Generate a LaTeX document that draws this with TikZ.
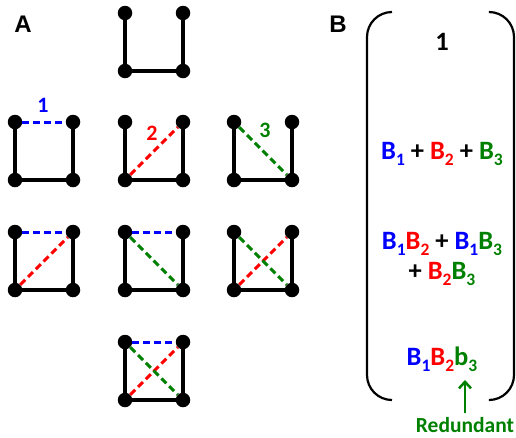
\documentclass[tikz,border=0pt]{standalone}
\usepackage{fontspec}
\setmainfont{Carlito}
\newfontfamily\arialf{Liberation Sans}
\usetikzlibrary{arrows.meta}
\definecolor{gblue}{RGB}{0,0,255}
\definecolor{gred}{RGB}{255,0,0}
\definecolor{ggreen}{RGB}{0,128,0}
\newcommand\subx[1]{\raisebox{-0.25em}{\fontsize{17.5}{17.5}\selectfont #1}}
\newcommand\Bx[3]{\textcolor{#1}{#2\subx{#3}}}
\newcommand\sqgraph[3]{%
  \node[dot] (#1tl) at (#2,#3) {};
  \node[dot] (#1tr) at (#2+58,#3) {};
  \node[dot] (#1bl) at (#2,#3+58) {};
  \node[dot] (#1br) at (#2+58,#3+58) {};
  \draw[edge] (#1tl) -- (#1bl) -- (#1br) -- (#1tr);
}
\begin{document}
\begin{tikzpicture}[x=1pt,y=-1pt,
  dot/.style={circle,fill=black,minimum size=14.5pt,inner sep=0pt},
  edge/.style={line width=3.2pt,black},
  dsh/.style={line width=3pt,dash pattern=on 7pt off 4pt},
  bl1/.style={dsh,gblue},
  rd2/.style={dsh,gred},
  gr3/.style={dsh,ggreen},
  panel/.style={font=\arialf\bfseries\fontsize{24}{24}\selectfont,anchor=base},
  num/.style={font=\bfseries\fontsize{22}{22}\selectfont},
  expr/.style={font=\bfseries\fontsize{26.5}{26.5}\selectfont,anchor=base},
  brack/.style={line width=2.2pt,rounded corners=25pt}]
\useasboundingbox (0,0) rectangle (516,437);
% panel labels
\node[panel] (labA) at (23,32) {A};
\node[panel] (labB) at (338,32) {B};
% graphs
\sqgraph{g0}{125}{13}
\sqgraph{g1}{15}{122}
\sqgraph{g2}{125}{122}
\sqgraph{g3}{234}{122}
\sqgraph{g4}{15}{232}
\sqgraph{g5}{125}{232}
\sqgraph{g6}{234}{232}
\sqgraph{g7}{125}{342}
% dashed edges
\draw[bl1] (g1tl) -- (g1tr);
\draw[rd2] (g2bl) -- (g2tr);
\draw[gr3] (g3tl) -- (g3br);
\draw[bl1] (g4tl) -- (g4tr);
\draw[rd2] (g4bl) -- (g4tr);
\draw[bl1] (g5tl) -- (g5tr);
\draw[gr3] (g5tl) -- (g5br);
\draw[rd2] (g6bl) -- (g6tr);
\draw[gr3] (g6tl) -- (g6br);
\draw[bl1] (g7tl) -- (g7tr);
\draw[rd2] (g7bl) -- (g7tr);
\draw[gr3] (g7tl) -- (g7br);
% edge numbers
\node[num,text=gblue] (n1) at (43,105) {1};
\node[num,text=gred] (n2) at (152,133) {2};
\node[num,text=ggreen] (n3) at (265,130) {3};
% brackets
\draw[brack] (392,12) -- (367,12) -- (367,400) -- (392,400);
\draw[brack] (490,12) -- (514,12) -- (514,400) -- (490,400);
% expressions
\node[expr] (e0) at (442,50) {1};
\node[expr] (e1) at (442,159) {\Bx{gblue}{B}{1} + \Bx{gred}{B}{2} + \Bx{ggreen}{B}{3}};
\node[expr] (e2) at (442,249) {\Bx{gblue}{B}{1}\Bx{gred}{B}{2} + \Bx{gblue}{B}{1}\Bx{ggreen}{B}{3}};
\node[expr] (e3) at (442,279) {+ \Bx{gred}{B}{2}\Bx{ggreen}{B}{3}};
\node[expr] (e4) at (442,365) {\Bx{gblue}{B}{1}\Bx{gred}{B}{2}\Bx{ggreen}{b}{3}};
\node[expr,text=ggreen,font=\bfseries\fontsize{21.5}{21.5}\selectfont] (red) at (465,432) {Redundant};
\coordinate (tip) at (465,380);
\draw[ggreen,line width=2.5pt,-{Straight Barb[length=6.5pt,width=12pt]}] (red.north) -- (tip);
\end{tikzpicture}
\end{document}
